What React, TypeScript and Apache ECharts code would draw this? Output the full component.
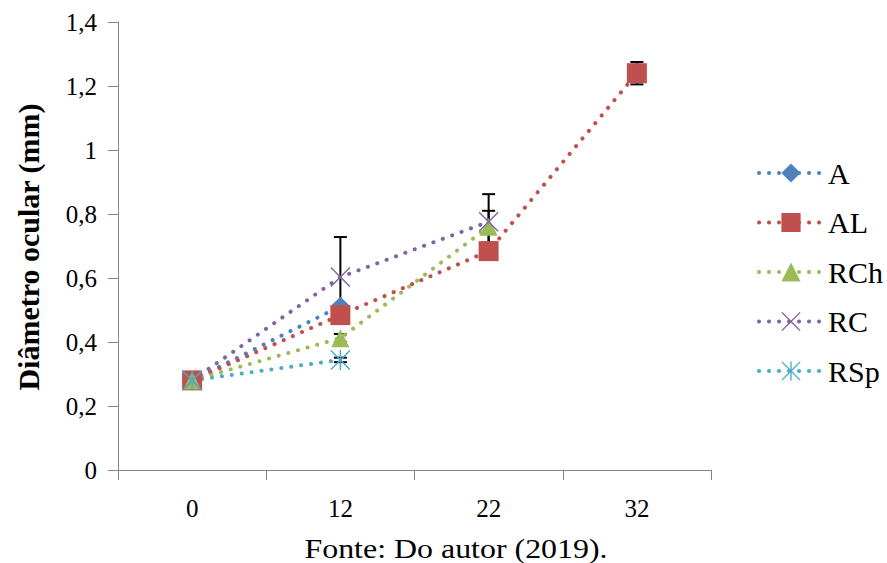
import React, { useEffect, useRef } from "react";
import * as echarts from "echarts";

const categories = ["0", "12", "22", "32"];
const seriesNames = ["A", "AL", "RCh", "RC", "RSp"];
const valuesA = [0.28, 0.512, null, null];
const valuesAL = [0.28, 0.484, 0.684, 1.24];
const valuesRCh = [0.28, 0.412, 0.76, null];
const valuesRC = [0.28, 0.603, 0.776, null];
const valuesRSp = [0.28, 0.344, null, null];

const errA = [null, null, null, null];
const errAL = [null, null, null, 0.035];
const errRCh = [null, 0.013, 0.05, null];
const errRC = [null, 0.125, 0.086, null];
const errRSp = [null, 0.007, null, null];

const yTicks = ["0", "0,2", "0,4", "0,6", "0,8", "1", "1,2", "1,4"];

const colors = ["#4F81BD", "#C0504D", "#9BBB59", "#8064A2", "#4BACC6"];

const X_PATH =
  "path://M0,1 L1,0 L10,9 L19,0 L20,1 L11,10 L20,19 L19,20 L10,11 L1,20 L0,19 L9,10 Z";
const STAR_PATH =
  "path://M0,1 L1,0 L10,9 L19,0 L20,1 L11,10 L20,19 L19,20 L10,11 L1,20 L0,19 L9,10 Z M9.3,0 L10.7,0 L10.7,20 L9.3,20 Z";

const FONT = "Liberation Serif";

export default function App() {
  const ref = useRef<HTMLDivElement>(null);

  useEffect(() => {
    document.body.style.margin = "0";
    if (!ref.current) return;
    const chart = echarts.init(ref.current, null, { renderer: "svg" });

    const allValues = [valuesA, valuesAL, valuesRCh, valuesRC, valuesRSp];
    const allErrs = [errA, errAL, errRCh, errRC, errRSp];
    const symbols = ["diamond", "rect", "triangle", X_PATH, STAR_PATH];
    const symbolSizes: any[] = [[20, 19], 20, [18, 18], 20, 20];

    const errData: any[] = [];
    allValues.forEach((vals, si) => {
      vals.forEach((v, ci) => {
        const e = allErrs[si][ci];
        if (v != null && e != null) errData.push([ci, v - e, v + e]);
      });
    });

    const lineSeries = seriesNames.map((name, i) => ({
      name,
      type: "line",
      data: allValues[i],
      symbol: symbols[i],
      symbolSize: symbolSizes[i],
      z: 3,
      itemStyle: { color: colors[i] },
      lineStyle: {
        color: colors[i],
        width: 4,
        type: [0.1, 9.9],
        cap: "round",
      },
    }));

    const errSeries = {
      type: "custom",
      z: 2,
      data: errData,
      silent: true,
      renderItem: (params: any, api: any) => {
        const x = api.value(0);
        const lo = api.coord([x, api.value(1)]);
        const hi = api.coord([x, api.value(2)]);
        const cw = 6.5;
        const style = { stroke: "#000", lineWidth: 2 };
        return {
          type: "group",
          children: [
            { type: "line", shape: { x1: lo[0], y1: lo[1], x2: hi[0], y2: hi[1] }, style },
            { type: "line", shape: { x1: hi[0] - cw, y1: hi[1], x2: hi[0] + cw, y2: hi[1] }, style },
            { type: "line", shape: { x1: lo[0] - cw, y1: lo[1], x2: lo[0] + cw, y2: lo[1] }, style },
          ],
        };
      },
    };

    chart.setOption({
      animation: false,
      grid: { left: 118, right: 176, top: 22, bottom: 93, containLabel: false },
      legend: {
        data: seriesNames,
        orient: "vertical",
        left: 752,
        top: 153,
        itemWidth: 64,
        itemHeight: 24,
        itemGap: 19.5,
        lineStyle: { width: 4, type: [0.1, 9.9], cap: "round" },
        textStyle: {
          fontFamily: FONT,
          fontSize: 30,
          color: "#000",
          lineHeight: 30,
        },
      },
      xAxis: {
        type: "category",
        data: categories,
        boundaryGap: true,
        axisLine: { lineStyle: { color: "#868686", width: 1 } },
        axisTick: { show: true, length: 10, lineStyle: { color: "#868686" } },
        axisLabel: { fontFamily: FONT, fontSize: 25, color: "#000", margin: 26 },
        splitLine: { show: false },
      },
      yAxis: {
        type: "value",
        min: 0,
        max: 1.4,
        interval: 0.2,
        axisLine: { show: true, lineStyle: { color: "#868686", width: 1 } },
        axisTick: { show: true, length: 10, lineStyle: { color: "#868686" } },
        axisLabel: {
          fontFamily: FONT,
          fontSize: 25,
          color: "#000",
          margin: 21,
          formatter: (v: number) => yTicks[Math.round(v / 0.2)],
        },
        splitLine: { show: false },
      },
      graphic: [
        {
          type: "text",
          x: 28,
          y: 247,
          rotation: Math.PI / 2,
          style: {
            text: "Diâmetro ocular (mm)",
            fontFamily: FONT,
            fontSize: 30,
            fontWeight: "bold",
            fill: "#000",
            align: "center",
            verticalAlign: "middle",
          },
        },
        {
          type: "text",
          x: 456,
          y: 548,
          scaleX: 1.14,
          style: {
            text: "Fonte: Do autor (2019).",
            fontFamily: FONT,
            fontSize: 28,
            fill: "#000",
            align: "center",
            verticalAlign: "middle",
          },
        },
      ],
      series: [errSeries, ...lineSeries],
    });

    return () => chart.dispose();
  }, []);

  return <div ref={ref} style={{ width: 887, height: 563 }} />;
}
